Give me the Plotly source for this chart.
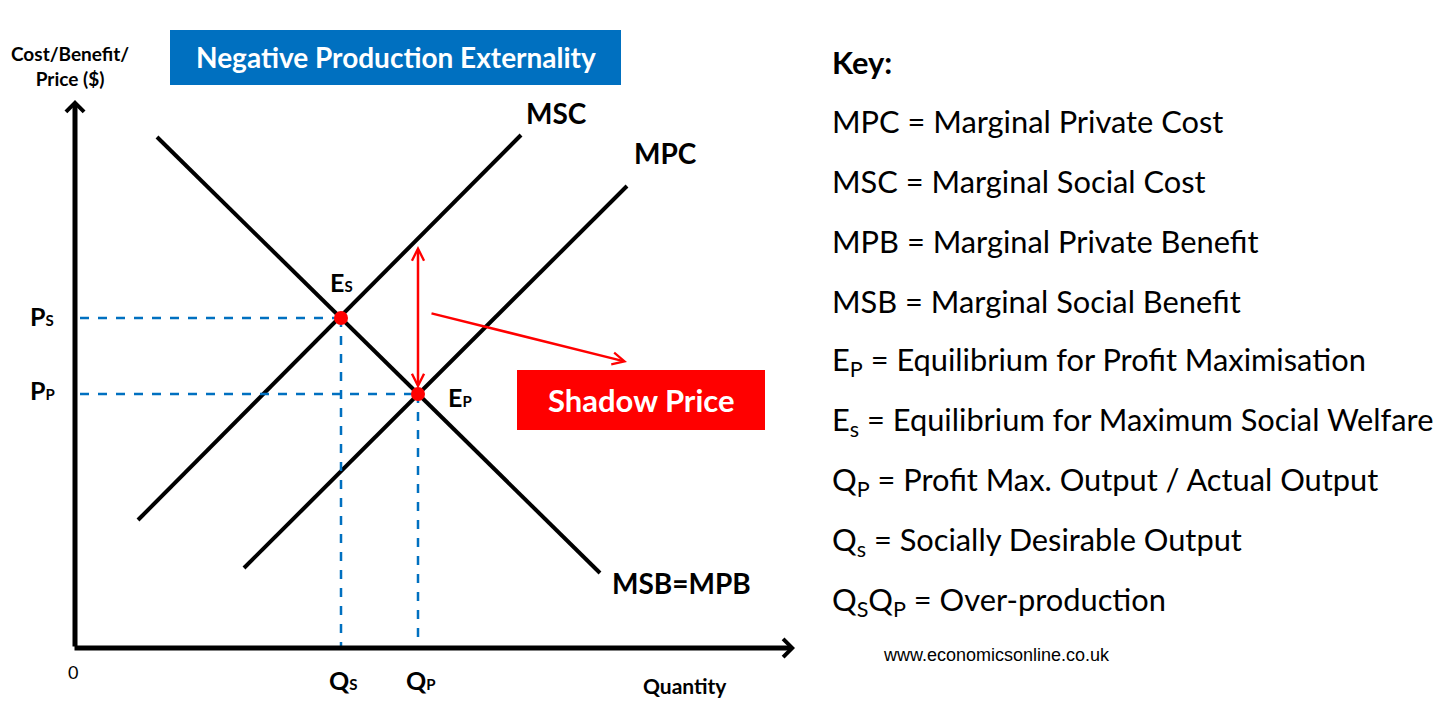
import plotly.graph_objects as go

# ---- Data (diagram units: quantity on x, price on y) ----
msb_x = [82, 525]
msb_y = [511, 75]
msc_x = [63, 446]
msc_y = [128, 513]
mpc_x = [169, 552]
mpc_y = [80, 462]
eq_names = ["Es", "Ep"]
eq_x = [266, 343]
eq_y = [330, 254]
axis_x_max = 720
axis_y_max = 548
shadow_top = 402          # MSC value at Qp
key_lines = [
    "<b>Key:</b>",
    "MPC = Marginal Private Cost",
    "MSC = Marginal Social Cost",
    "MPB = Marginal Private Benefit",
    "MSB = Marginal Social Benefit",
    "E<sub>P</sub> = Equilibrium for Profit Maximisation",
    "E<sub>s</sub> = Equilibrium for Maximum Social Welfare",
    "Q<sub>P</sub> = Profit Max. Output / Actual Output",
    "Q<sub>s</sub> = Socially Desirable Output",
    "Q<sub>S</sub>Q<sub>P</sub> = Over-production",
]

FONT = "Lato"
BLUE = "#0070C0"
RED = "#FF0000"

fig = go.Figure()

# curves
for xs, ys in [(msb_x, msb_y), (msc_x, msc_y), (mpc_x, mpc_y)]:
    fig.add_trace(go.Scatter(x=xs, y=ys, mode="lines",
                             line=dict(color="black", width=4),
                             hoverinfo="skip", showlegend=False))

# dashed guide lines
for ex, ey in zip(eq_x, eq_y):
    fig.add_trace(go.Scatter(x=[5, ex], y=[ey, ey], mode="lines",
                             line=dict(color=BLUE, width=2.5, dash="dash"),
                             hoverinfo="skip", showlegend=False))
    fig.add_trace(go.Scatter(x=[ex, ex], y=[ey, 0], mode="lines",
                             line=dict(color=BLUE, width=2.5, dash="dash"),
                             hoverinfo="skip", showlegend=False))

# equilibrium points
fig.add_trace(go.Scatter(x=eq_x, y=eq_y, mode="markers",
                         marker=dict(color=RED, size=14),
                         hoverinfo="skip", showlegend=False))

ann = []
# axes with arrowheads
ann.append(dict(x=0, y=axis_y_max, ax=0, ay=0, xref="x", yref="y", axref="x", ayref="y",
                text="", showarrow=True, arrowhead=4, arrowsize=0.7, arrowwidth=5,
                arrowcolor="black", standoff=0))
ann.append(dict(x=axis_x_max, y=0, ax=-2, ay=0, xref="x", yref="y", axref="x", ayref="y",
                text="", showarrow=True, arrowhead=4, arrowsize=0.7, arrowwidth=5,
                arrowcolor="black", standoff=0))
# shadow price double arrow
ann.append(dict(x=eq_x[1], y=shadow_top, ax=eq_x[1], ay=eq_y[1] + 4, xref="x", yref="y",
                axref="x", ayref="y", text="", showarrow=True, arrowhead=5,
                startarrowhead=5, arrowside="end+start", arrowsize=0.95, startarrowsize=0.95,
                arrowwidth=2.5, arrowcolor=RED, standoff=0, startstandoff=0))
ann.append(dict(x=552, y=286, ax=355, ay=335, xref="x", yref="y", axref="x", ayref="y",
                text="", showarrow=True, arrowhead=5, arrowsize=0.95, arrowwidth=2.5,
                arrowcolor=RED, standoff=0))

def label(x, y, text, size, color="black", xanchor="center", bold=True, family=FONT):
    ann.append(dict(x=x, y=y, xref="x", yref="y", text=f"<b>{text}</b>" if bold else text,
                    showarrow=False, xanchor=xanchor, yanchor="middle",
                    font=dict(family=family, size=size, color=color)))

label(-5, 582, "Cost/Benefit/<br>Price ($)", 19)
label(321, 591, "Negative Production Externality", 28, color="white")
label(566, 248, "Shadow Price", 31, color="white")
label(481, 535, "MSC", 28)
label(590, 495, "MPC", 28)
label(606, 65, "MSB=MPB", 28)
small = "<span style='font-size:15px'>{}</span>"
label(266, 366, "E" + small.format("S"), 25)
label(385, 251, "E" + small.format("P"), 25)
label(-33, 332, "P" + small.format("S"), 25)
label(-33, 258, "P" + small.format("P"), 25)
label(268, -32, "Q" + small.format("S"), 25)
label(346, -32, "Q" + small.format("P"), 25)
label(-2, -24, "0", 18, bold=False)
label(610, -37, "Quantity", 21)
label(921, -7, "www.economicsonline.co.uk", 18, bold=False, family="Liberation Sans")

key_y = [586, 527, 467, 407, 347, 287, 227, 167, 107, 47]
for t, ky in zip(key_lines, key_y):
    ann.append(dict(x=755, y=ky, xref="x", yref="y", text=t, showarrow=False,
                    xanchor="left", yanchor="middle",
                    font=dict(family=FONT, size=30.8, color="black")))

shapes = [
    dict(type="rect", xref="x", yref="y", x0=95, x1=546, y0=563, y1=618,
         fillcolor=BLUE, line=dict(width=0), layer="below"),
    dict(type="rect", xref="x", yref="y", x0=442, x1=690, y0=218, y1=278,
         fillcolor=RED, line=dict(width=0), layer="below"),
]

fig.update_layout(
    width=1447, height=714,
    margin=dict(l=0, r=0, t=0, b=0),
    paper_bgcolor="white", plot_bgcolor="white",
    xaxis=dict(range=[-75, 1372], visible=False, fixedrange=True),
    yaxis=dict(range=[-66, 648], visible=False, fixedrange=True),
    annotations=ann, shapes=shapes, showlegend=False,
)

fig.write_html("out.html")
